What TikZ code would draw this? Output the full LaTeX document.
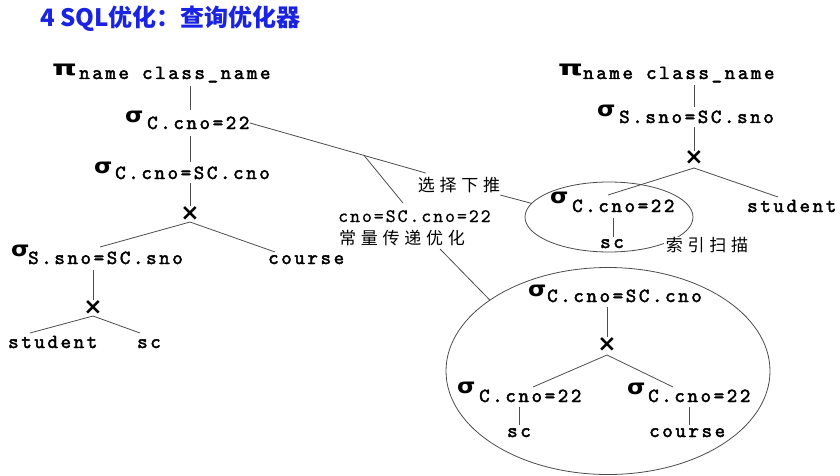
\documentclass[tikz,border=0pt]{standalone}
\usepackage{fontspec}
\usepackage{graphicx}
\usetikzlibrary{shapes.geometric,calc}
\newfontfamily\mono{lmmono10-regular.otf}[LetterSpace=13,FakeBold=2.2]
\newfontfamily\monor{lmmono10-regular.otf}[LetterSpace=10,FakeBold=0.6]
\newfontfamily\gr{DejaVu Sans}
\newfontfamily\cjk{Noto Sans CJK SC}[LetterSpace=28]
\newfontfamily\cjkt{Noto Sans CJK SC}
\definecolor{tblue}{RGB}{25,35,225}
\newcommand{\sg}{\scalebox{1.12}[1]{σ}}
\newcommand{\pg}{\scalebox{1.5}[1]{π}}
\begin{document}
\begin{tikzpicture}[x=1pt,y=-1pt,
  ln/.style={line width=0.8pt,draw=black!70},
  txt/.style={inner sep=0pt,anchor=base west,font=\mono\fontsize{20}{20}\selectfont},
  gly/.style={inner sep=0pt,anchor=base west,font=\gr\bfseries\fontsize{21}{21}\selectfont},
  crs/.style={inner sep=0pt,font=\gr\bfseries\fontsize{23}{23}\selectfont},
  lab/.style={inner sep=0pt,font=\cjk\fontsize{17}{17}\selectfont},
  oval/.style={draw,ellipse,ln,inner sep=0pt}]
\useasboundingbox (0,0) rectangle (840,476);
\node[anchor=base west,inner sep=0pt,text=tblue,font=\cjkt\bfseries\fontsize{24}{24}\selectfont] (title) at (40,27) {4 SQL优化：查询优化器};

% left tree
\node[gly] (pg1) at (52,76) {\pg};
\node[txt] (pi1) at (79,79) {name class\_name};
\node[gly] (s1g) at (125,122) {\sg};
\node[txt] (s1) at (147,129) {C.cno=22};
\node[gly] (s2g) at (94,173) {\sg};
\node[txt] (s2) at (115,179) {C.cno=SC.cno};
\node[crs] (cr1) at (190,214) {×};
\node[gly] (s3g) at (11,256) {\sg};
\node[txt] (s3) at (28,264) {S.sno=SC.sno};
\node[txt] (co1) at (268,264) {course};
\node[crs] (cr2) at (93,308) {×};
\node[txt] (st1) at (8,348) {student};
\node[txt] (sc1) at (137,348) {sc};

\draw[ln] ($(pi1.base -| cr1)+(0,7)$) -- ($(s1.base -| cr1)+(0,-19)$);
\draw[ln] ($(s1.base -| cr1)+(0,7)$) -- ($(s2.base -| cr1)+(0,-17)$);
\draw[ln] ($(s2.base -| cr1)+(0,4)$) -- ($(cr1.center)+(0,-8)$);
\draw[ln] ($(cr1.center)+(0,8)$) -- ($(s3.base west)+(72,-17)$);
\draw[ln] ($(cr1.center)+(0,8)$) -- ($(co1.base west)+(7,-12)$);
\draw[ln] ($(s3.base -| cr2)+(0,6)$) -- ($(cr2.center)+(0,-8)$);
\draw[ln] ($(cr2.center)+(0,8)$) -- ($(st1.base west)+(22,-15)$);
\draw[ln] ($(cr2.center)+(0,8)$) -- ($(sc1.base west)+(3,-15)$);

% right tree
\node[gly] (pg2) at (558,76) {\pg};
\node[txt] (pi2) at (583,79) {name class\_name};
\node[gly] (s4g) at (597,117) {\sg};
\node[txt] (s4) at (619,123) {S.sno=SC.sno};
\node[crs] (cr3) at (694,158) {×};
\node[gly] (s5g) at (550,203) {\sg};
\node[txt] (s5) at (572,212) {C.cno=22};
\node[txt] (st2) at (747,212) {student};
\node[txt] (sc2) at (600,248) {sc};
\node[oval,minimum width=168pt,minimum height=70pt] (e1) at (609,217) {};

\draw[ln] ($(pi2.base -| cr3)+(0,6)$) -- ($(s4.base -| cr3)+(0,-16)$);
\draw[ln] ($(s4.base -| cr3)+(0,4)$) -- ($(cr3.center)+(0,-7)$);
\draw[ln] ($(cr3.center)+(0,10)$) -- ($(s5.base west)+(36,-17)$);
\draw[ln] ($(cr3.center)+(0,10)$) -- ($(st2.base west)+(31,-15)$);
\draw[ln] ($(s5.base west)+(41,6)$) -- ($(sc2.base west)+(13,-11)$);
\node[lab,fill=white,inner xsep=2pt] (l4) at (707,245) {索引扫描};

% optimised subtree
\node[oval,minimum width=324pt,minimum height=207pt] (e2) at (608,371) {};
\node[gly] (s6g) at (528,296) {\sg};
\node[txt] (s6) at (547,302) {C.cno=SC.cno};
\node[crs] (cr4) at (607,345) {×};
\node[gly] (s7g) at (457,393) {\sg};
\node[txt] (s7) at (479,402) {C.cno=22};
\node[txt] (sc3) at (507,437) {sc};
\node[gly] (s8g) at (627,394) {\sg};
\node[txt] (s8) at (648,402) {C.cno=22};
\node[txt] (co2) at (649,437) {course};

\draw[ln] ($(s6.base -| cr4)+(0,5)$) -- ($(cr4.center)+(0,-8)$);
\draw[ln] ($(cr4.center)+(0,10)$) -- ($(s7.base west)+(54,-15)$);
\draw[ln] ($(cr4.center)+(0,10)$) -- ($(s8.base west)+(25,-15)$);
\draw[ln] ($(s7.base west)+(40,5)$) -- ($(sc3.base west)+(12,-12)$);
\draw[ln] ($(s8.base west)+(41,5)$) -- ($(co2.base west)+(40,-12)$);

% annotations
\node[lab] (l1) at (459,185) {选择下推};
\node[inner sep=0pt,anchor=base west,font=\monor\fontsize{19}{19}\selectfont] (l2) at (338,222) {cno=SC.cno=22};
\node[lab] (l3) at (402,238) {常量传递优化};
\coordinate (a1) at ($(l1.north west)+(8,-4)$);
\coordinate (br) at ($(s1.east)!0.65!(a1)$);
\draw[ln] (s1.east) -- (a1);
\draw[ln] (br) -- ($(l2.base west)+(65,-19)$);
\draw[ln] ($(l1.south east)+(0,2)$) -- (e1.170);
\draw[ln] ($(l3.south east)+(-25,3)$) -- (e2.149);
\end{tikzpicture}
\end{document}
